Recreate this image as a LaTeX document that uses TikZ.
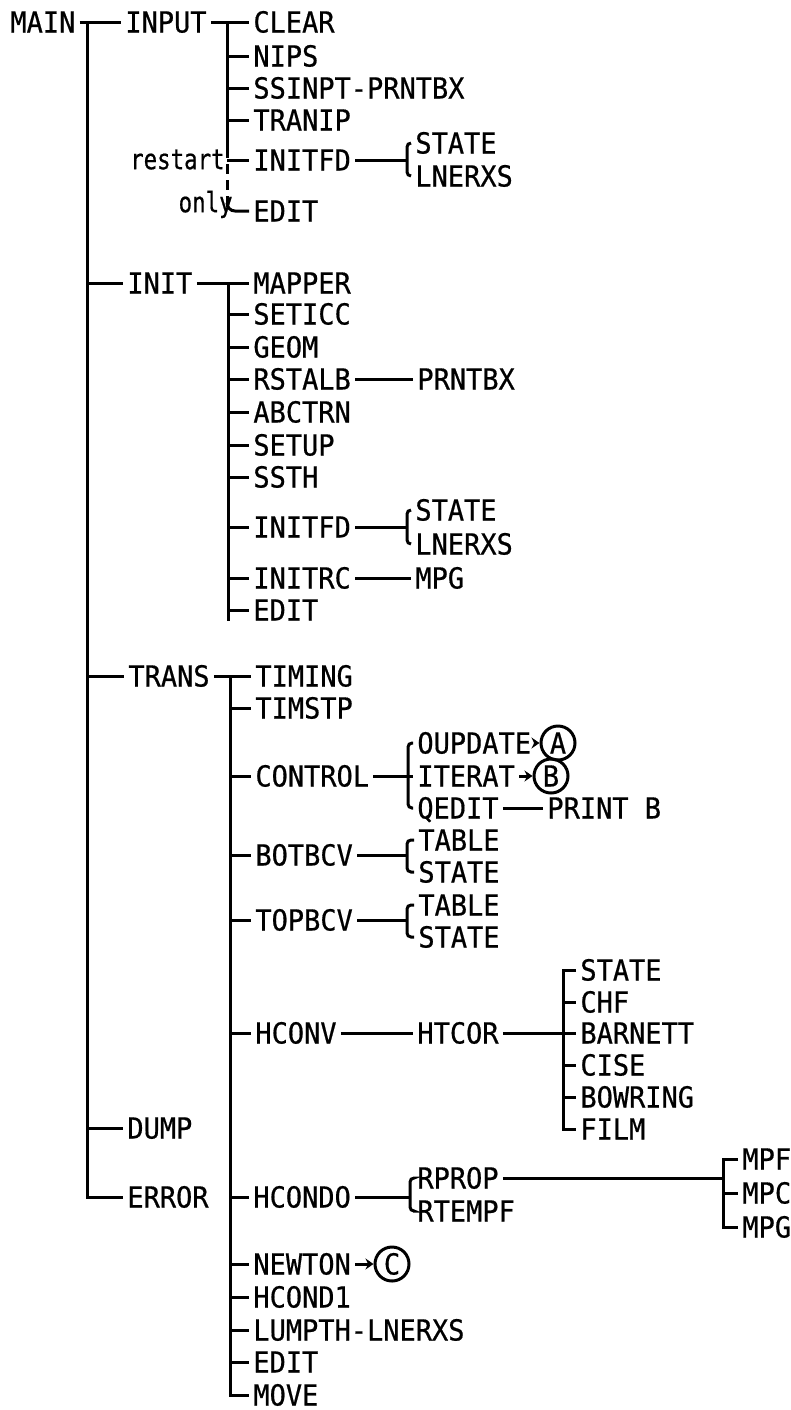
\documentclass[tikz,border=0pt]{standalone}
\usepackage{fontspec}
\newfontfamily\chartfont[FakeBold=0.6,FakeStretch=0.93]{DejaVu Sans Mono}
\newfontfamily\notefont[FakeBold=0.6,FakeStretch=0.8]{DejaVu Sans Mono}
\usetikzlibrary{arrows.meta}
\tikzset{
  lbl/.style={font=\chartfont\fontsize{14.5}{17}\selectfont, inner xsep=2pt, inner ysep=0pt,
              text height=10.5pt, text depth=0pt, anchor=west},
  note/.style={font=\notefont\fontsize{14}{17}\selectfont, inner sep=0pt,
               text height=10.2pt, text depth=0pt, anchor=east},
  ln/.style={line width=1.5pt},
  refc/.style={circle, draw, line width=1.5pt, inner sep=0pt, minimum size=17pt,
               font=\chartfont\fontsize{14.5}{17}\selectfont, text height=10.5pt, text depth=0pt},
  tip/.style={-{Stealth[length=4pt,width=5.5pt]}},
  brk/.style={ln, rounded corners=2pt}
}
\begin{document}
\begin{tikzpicture}[x=0.5pt,y=-0.5pt]
\useasboundingbox (0,0) rectangle (791,1410);
% spine x positions
\coordinate (s0) at (87,0);
\coordinate (s1) at (227,0);
\coordinate (s2) at (228,0);
\coordinate (s3) at (230,0);
\coordinate (s4) at (563,0);
\coordinate (s5) at (723,0);
% ---------- labels ----------
\node[lbl] (main)   at (6,22)   {MAIN};
\node[lbl] (input)  at (121,22) {INPUT};
\node[lbl] (clear)  at (249,22) {CLEAR};
\node[lbl] (nips)   at (249,56) {NIPS};
\node[lbl] (ssinpt) at (249,88) {SSINPT-PRNTBX};
\node[lbl] (tranip) at (249,120) {TRANIP};
\node[lbl] (initfdA) at (249,160) {INITFD};
\node[lbl] (stateA) at (411,143) {STATE};
\node[lbl] (lnerxsA) at (411,176) {LNERXS};
\node[lbl] (editA)  at (249,211) {EDIT};
\node[note] (restart) at (225,159) {restart};
\node[note] (only)  at (233,202) {only};

\node[lbl] (init)   at (123,283) {INIT};
\node[lbl] (mapper) at (249,283) {MAPPER};
\node[lbl] (seticc) at (249,314) {SETICC};
\node[lbl] (geom)   at (249,347) {GEOM};
\node[lbl] (rstalb) at (249,379) {RSTALB};
\node[lbl] (prntbx) at (413,379) {PRNTBX};
\node[lbl] (abctrn) at (249,412) {ABCTRN};
\node[lbl] (setup)  at (249,445) {SETUP};
\node[lbl] (ssth)   at (249,477) {SSTH};
\node[lbl] (initfdB) at (249,527) {INITFD};
\node[lbl] (stateB) at (411,510) {STATE};
\node[lbl] (lnerxsB) at (411,544) {LNERXS};
\node[lbl] (initrc) at (249,578) {INITRC};
\node[lbl] (mpgB)   at (411,578) {MPG};
\node[lbl] (editB)  at (249,610) {EDIT};

\node[lbl] (trans)  at (124,676) {TRANS};
\node[lbl] (timing) at (251,676) {TIMING};
\node[lbl] (timstp) at (251,708) {TIMSTP};
\node[lbl] (control) at (251,776) {CONTROL};
\node[lbl] (oupdate) at (413,743) {OUPDATE};
\node[lbl] (iterat) at (413,776) {ITERAT};
\node[lbl] (qedit)  at (413,808) {QEDIT};
\node[lbl] (printb) at (543,808) {PRINT B};
\node[refc] (ca) at (558,743) {A};
\node[refc] (cb) at (551,776) {B};
\node[lbl] (botbcv) at (251,855) {BOTBCV};
\node[lbl] (tableA) at (414,840) {TABLE};
\node[lbl] (stateC) at (414,872) {STATE};
\node[lbl] (topbcv) at (251,920) {TOPBCV};
\node[lbl] (tableB) at (414,905) {TABLE};
\node[lbl] (stateD) at (414,937) {STATE};
\node[lbl] (hconv)  at (251,1033) {HCONV};
\node[lbl] (htcor)  at (413,1033) {HTCOR};
\node[lbl] (stateE) at (576,970) {STATE};
\node[lbl] (chf)    at (576,1002) {CHF};
\node[lbl] (barnett) at (576,1033) {BARNETT};
\node[lbl] (cise)   at (576,1065) {CISE};
\node[lbl] (bowring) at (576,1097) {BOWRING};
\node[lbl] (film)   at (576,1129) {FILM};
\node[lbl] (dump)   at (123,1128) {DUMP};
\node[lbl] (error)  at (123,1197) {ERROR};
\node[lbl] (hcondo) at (249,1197) {HCONDO};
\node[lbl] (rprop)  at (413,1178) {RPROP};
\node[lbl] (rtempf) at (413,1211) {RTEMPF};
\node[lbl] (mpf)    at (738,1159) {MPF};
\node[lbl] (mpc)    at (738,1193) {MPC};
\node[lbl] (mpg)    at (738,1227) {MPG};
\node[lbl] (newton) at (249,1264) {NEWTON};
\node[refc] (cc) at (392,1264) {C};
\node[lbl] (hcond1) at (249,1297) {HCOND1};
\node[lbl] (lumpth) at (249,1330) {LUMPTH-LNERXS};
\node[lbl] (editC)  at (249,1362) {EDIT};
\node[lbl] (move)   at (249,1395) {MOVE};

% ---------- MAIN spine ----------
\draw[ln] (main.east) -- (input.west);
\draw[ln] (main.east -| s0) |- (error.west);
\foreach \n in {init,trans,dump} \draw[ln] (\n.west -| s0) -- (\n.west);

% ---------- INPUT ----------
\coordinate (s1a) at (227,148);
\coordinate (s1b) at (227,204);
\draw[ln] (input.east) -- (clear.west);
\draw[ln] (clear.west -| s1) -- (s1a);
\draw[ln, dash pattern=on 5pt off 3pt] (s1a) -- (s1b);
\draw[ln, rounded corners=4pt] (s1b) |- (editA.west);
\foreach \n in {nips,ssinpt,tranip,initfdA} \draw[ln] (\n.west -| s1) -- (\n.west);
\coordinate (bA) at (407,160);
\draw[ln] (initfdA.east) -- (bA);
\draw[brk] (stateA.west) -| (bA) |- (lnerxsA.west);

% ---------- INIT ----------
\coordinate (s2e) at (228,621);
\draw[ln] (init.east) -- (mapper.west);
\draw[ln] (mapper.west -| s2) -- (s2e);
\foreach \n in {seticc,geom,rstalb,abctrn,setup,ssth,initfdB,initrc,editB} \draw[ln] (\n.west -| s2) -- (\n.west);
\draw[ln] (rstalb.east) -- (prntbx.west);
\coordinate (bB) at (407,527);
\draw[ln] (initfdB.east) -- (bB);
\draw[brk] (stateB.west) -| (bB) |- (lnerxsB.west);
\draw[ln] (initrc.east) -- (mpgB.west);

% ---------- TRANS ----------
\draw[ln] (trans.east) -- (timing.west);
\draw[ln] (timing.west -| s3) |- (move.west);
\foreach \n in {timstp,control,botbcv,topbcv,hconv,hcondo,newton,hcond1,lumpth,editC} \draw[ln] (\n.west -| s3) -- (\n.west);
% CONTROL
\coordinate (bC) at (408,776);
\draw[ln] (control.east) -- (iterat.west);
\draw[brk] (oupdate.west) -| (bC) |- (qedit.west);
\draw[ln, tip] (oupdate.east) -- (ca.west);
\draw[ln, tip] (iterat.east) -- (cb.west);
\draw[ln] (qedit.east) -- (printb.west);
% BOTBCV / TOPBCV
\coordinate (bD) at (407,855);
\draw[ln] (botbcv.east) -- (bD);
\draw[brk] (tableA.west) -| (bD) |- (stateC.west);
\coordinate (bE) at (407,920);
\draw[ln] (topbcv.east) -- (bE);
\draw[brk] (tableB.west) -| (bE) |- (stateD.west);
% HCONV
\draw[ln] (hconv.east) -- (htcor.west);
\draw[ln] (htcor.east) -- (barnett.west);
\draw[ln] (stateE.west) -- (stateE.west -| s4) |- (film.west);
\foreach \n in {chf,cise,bowring} \draw[ln] (\n.west -| s4) -- (\n.west);
% HCONDO
\coordinate (bF) at (410,1197);
\draw[ln] (hcondo.east) -- (bF);
\draw[brk] (rprop.west) -| (bF) |- (rtempf.west);
\draw[ln] (rprop.east) -- (rprop.east -| s5);
\draw[ln] (mpf.west) -- (mpf.west -| s5) |- (mpg.west);
\draw[ln] (mpc.west -| s5) -- (mpc.west);
% NEWTON
\draw[ln, tip] (newton.east) -- (cc.west);
\end{tikzpicture}
\end{document}
